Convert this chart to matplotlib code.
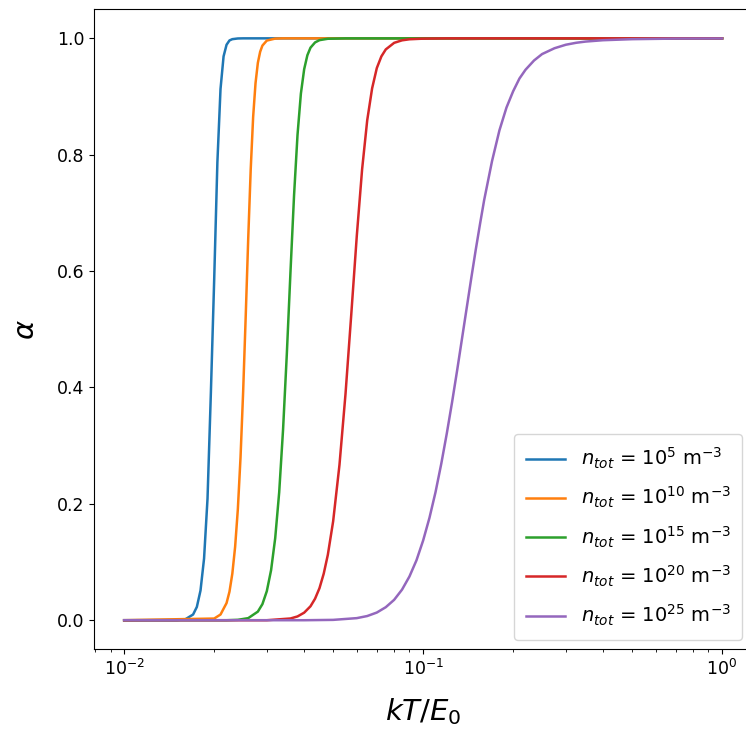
import numpy as np
import matplotlib
matplotlib.use("Agg")
import matplotlib.pyplot as plt

# kT/E0 and ionisation fraction alpha
x_blue = [0.010, 0.015, 0.016, 0.017, 0.0175, 0.018, 0.0185, 0.019, 0.0195, 0.020,
          0.0205, 0.021, 0.0215, 0.022, 0.0225, 0.023, 0.024, 0.025, 1.0]
a_blue = [0.0, 0.0002, 0.0015, 0.0098, 0.0228, 0.051, 0.106, 0.209, 0.392, 0.585,
          0.787, 0.913, 0.969, 0.989, 0.9964, 0.9986, 0.9998, 1.0, 1.0]

x_orange = [0.010, 0.020, 0.021, 0.022, 0.0225, 0.023, 0.0235, 0.024, 0.0245, 0.025,
            0.0255, 0.026, 0.0265, 0.027, 0.0275, 0.028, 0.0285, 0.029, 0.030,
            0.032, 0.034, 1.0]
a_orange = [0.0, 0.0029, 0.0098, 0.0295, 0.049, 0.080, 0.126, 0.191, 0.280, 0.393,
            0.523, 0.657, 0.775, 0.865, 0.923, 0.958, 0.977, 0.9876, 0.9962,
            0.9996, 1.0, 1.0]

x_green = [0.010, 0.022, 0.024, 0.026, 0.028, 0.029, 0.030, 0.031, 0.032, 0.033,
           0.034, 0.035, 0.036, 0.037, 0.038, 0.039, 0.040, 0.041, 0.042, 0.0435,
           0.045, 0.048, 0.055, 1.0]
a_green = [0.0, 0.0, 0.0007, 0.0036, 0.0148, 0.0277, 0.050, 0.086, 0.141, 0.220,
           0.328, 0.458, 0.599, 0.730, 0.834, 0.905, 0.947, 0.971, 0.984, 0.993,
           0.9969, 0.9993, 1.0, 1.0]

x_red = [0.010, 0.030, 0.036, 0.038, 0.040, 0.042, 0.0435, 0.045, 0.0465, 0.048,
         0.050, 0.0525, 0.055, 0.0575, 0.060, 0.0625, 0.065, 0.0675, 0.070, 0.0725,
         0.075, 0.080, 0.085, 0.090, 0.100, 0.120, 1.0]
a_red = [0.0, 0.0, 0.003, 0.0065, 0.013, 0.024, 0.037, 0.055, 0.080, 0.1125,
         0.170, 0.267, 0.389, 0.526, 0.661, 0.775, 0.859, 0.914, 0.949, 0.969,
         0.981, 0.9923, 0.9966, 0.9984, 0.9995, 1.0, 1.0]

x_purple = [0.010, 0.040, 0.050, 0.060, 0.065, 0.070, 0.075, 0.080, 0.085, 0.090,
            0.095, 0.100, 0.105, 0.110, 0.115, 0.120, 0.125, 0.130, 0.135, 0.140,
            0.145, 0.150, 0.155, 0.160, 0.170, 0.180, 0.190, 0.200, 0.210, 0.220,
            0.235, 0.250, 0.275, 0.300, 0.325, 0.350, 0.400, 0.500, 0.700, 1.0]
a_purple = [0.0, 0.0, 0.0006, 0.0036, 0.0072, 0.0132, 0.0224, 0.0351, 0.0526, 0.0752,
            0.103, 0.137, 0.176, 0.220, 0.269, 0.321, 0.375, 0.430, 0.485, 0.538,
            0.589, 0.637, 0.681, 0.722, 0.789, 0.842, 0.881, 0.909, 0.931, 0.946,
            0.962, 0.973, 0.983, 0.989, 0.9924, 0.9945, 0.9968, 0.9986, 0.9996, 0.9998]

exponents = [5, 10, 15, 20, 25]
colors = ['#1f77b4', '#ff7f0e', '#2ca02c', '#d62728', '#9467bd']

fig = plt.figure(figsize=(7.46, 7.29), dpi=100)
# right spine lies just outside the cropped reference image
ax = fig.add_axes([0.1264, 0.1093, 0.8816, 0.878])

series = [(x_blue, a_blue), (x_orange, a_orange), (x_green, a_green),
          (x_red, a_red), (x_purple, a_purple)]
for (xs, ys), e, c in zip(series, exponents, colors):
    ax.plot(xs, ys, color=c, lw=1.8,
            label=r'$n_{tot}$ = $10^{%d}$ m$^{-3}$' % e)

ax.set_xscale('log')
ax.set_xlabel(r'$kT/E_0$', fontsize=21, labelpad=12)
ax.set_ylabel(r'$\alpha$', fontsize=21, labelpad=12)
ax.tick_params(labelsize=12.5)
ax.legend(loc='lower right', fontsize=14, labelspacing=0.72, borderpad=0.6)

fig.savefig('out.png', dpi=100)
